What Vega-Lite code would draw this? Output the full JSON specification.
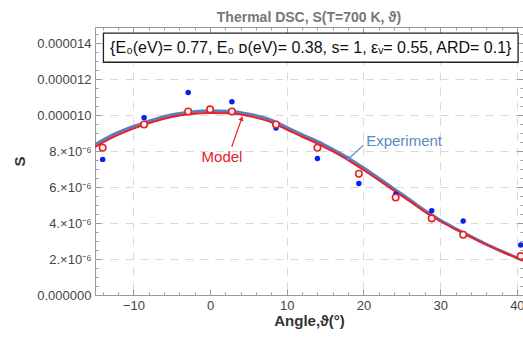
{
  "$schema": "https://vega.github.io/schema/vega-lite/v6.json",
  "width": 428,
  "height": 268,
  "autosize": "none",
  "padding": {"left": 95, "top": 27, "right": 0, "bottom": 44},
  "background": "white",
  "title": {"text": "Thermal DSC, S(T=700 K, ϑ)", "fontSize": 14, "fontWeight": "bold", "color": "#777777", "font": "Liberation Sans", "anchor": "middle", "offset": 2},
  "config": {
    "view": {"stroke": "#9a9a9a", "strokeWidth": 1},
    "axis": {"labelFont": "Liberation Sans", "titleFont": "Liberation Sans"}
  },
  "datasets": {
    "curves": [
      {"angle": -15, "S": 8.22e-6, "series": "Model"},
      {"angle": -12.5, "S": 8.8e-6, "series": "Model"},
      {"angle": -10, "S": 9.25e-6, "series": "Model"},
      {"angle": -7.5, "S": 9.62e-6, "series": "Model"},
      {"angle": -5, "S": 9.9e-6, "series": "Model"},
      {"angle": -2.5, "S": 10.06e-6, "series": "Model"},
      {"angle": 0, "S": 10.12e-6, "series": "Model"},
      {"angle": 2.5, "S": 10.1e-6, "series": "Model"},
      {"angle": 5, "S": 9.95e-6, "series": "Model"},
      {"angle": 7.5, "S": 9.68e-6, "series": "Model"},
      {"angle": 10, "S": 9.2e-6, "series": "Model"},
      {"angle": 12, "S": 8.8e-6, "series": "Model"},
      {"angle": 14, "S": 8.42e-6, "series": "Model"},
      {"angle": 16, "S": 7.98e-6, "series": "Model"},
      {"angle": 18, "S": 7.5e-6, "series": "Model"},
      {"angle": 20, "S": 6.95e-6, "series": "Model"},
      {"angle": 22, "S": 6.38e-6, "series": "Model"},
      {"angle": 24, "S": 5.8e-6, "series": "Model"},
      {"angle": 26, "S": 5.22e-6, "series": "Model"},
      {"angle": 28, "S": 4.62e-6, "series": "Model"},
      {"angle": 30, "S": 4.1e-6, "series": "Model"},
      {"angle": 32, "S": 3.65e-6, "series": "Model"},
      {"angle": 34, "S": 3.22e-6, "series": "Model"},
      {"angle": 36, "S": 2.8e-6, "series": "Model"},
      {"angle": 38, "S": 2.42e-6, "series": "Model"},
      {"angle": 40.8, "S": 1.92e-6, "series": "Model"},
      {"angle": -15, "S": 8.36e-6, "series": "Experiment"},
      {"angle": -12.5, "S": 8.94e-6, "series": "Experiment"},
      {"angle": -10, "S": 9.37e-6, "series": "Experiment"},
      {"angle": -7.5, "S": 9.74e-6, "series": "Experiment"},
      {"angle": -5, "S": 10.02e-6, "series": "Experiment"},
      {"angle": -2.5, "S": 10.18e-6, "series": "Experiment"},
      {"angle": 0, "S": 10.24e-6, "series": "Experiment"},
      {"angle": 2.5, "S": 10.22e-6, "series": "Experiment"},
      {"angle": 5, "S": 10.07e-6, "series": "Experiment"},
      {"angle": 7.5, "S": 9.8e-6, "series": "Experiment"},
      {"angle": 10, "S": 9.32e-6, "series": "Experiment"},
      {"angle": 12, "S": 8.92e-6, "series": "Experiment"},
      {"angle": 14, "S": 8.54e-6, "series": "Experiment"},
      {"angle": 16, "S": 8.1e-6, "series": "Experiment"},
      {"angle": 18, "S": 7.62e-6, "series": "Experiment"},
      {"angle": 20, "S": 7.07e-6, "series": "Experiment"},
      {"angle": 22, "S": 6.49e-6, "series": "Experiment"},
      {"angle": 24, "S": 5.9e-6, "series": "Experiment"},
      {"angle": 26, "S": 5.31e-6, "series": "Experiment"},
      {"angle": 28, "S": 4.7e-6, "series": "Experiment"},
      {"angle": 30, "S": 4.17e-6, "series": "Experiment"},
      {"angle": 32, "S": 3.7e-6, "series": "Experiment"},
      {"angle": 34, "S": 3.26e-6, "series": "Experiment"},
      {"angle": 36, "S": 2.83e-6, "series": "Experiment"},
      {"angle": 38, "S": 2.44e-6, "series": "Experiment"},
      {"angle": 40.8, "S": 1.93e-6, "series": "Experiment"}
    ],
    "points": [
      {"angle": -14, "S": 7.54e-6, "series": "Experiment"},
      {"angle": -8.6, "S": 9.85e-6, "series": "Experiment"},
      {"angle": -2.85, "S": 11.26e-6, "series": "Experiment"},
      {"angle": 2.85, "S": 10.74e-6, "series": "Experiment"},
      {"angle": 8.6, "S": 9.29e-6, "series": "Experiment"},
      {"angle": 14, "S": 7.59e-6, "series": "Experiment"},
      {"angle": 19.4, "S": 6.2e-6, "series": "Experiment"},
      {"angle": 24.2, "S": 5.6e-6, "series": "Experiment"},
      {"angle": 28.9, "S": 4.68e-6, "series": "Experiment"},
      {"angle": 33.0, "S": 4.11e-6, "series": "Experiment"},
      {"angle": 40.5, "S": 2.78e-6, "series": "Experiment"},
      {"angle": -14, "S": 8.19e-6, "series": "Model"},
      {"angle": -8.6, "S": 9.48e-6, "series": "Model"},
      {"angle": -2.85, "S": 10.2e-6, "series": "Model"},
      {"angle": 0, "S": 10.32e-6, "series": "Model"},
      {"angle": 2.85, "S": 10.2e-6, "series": "Model"},
      {"angle": 8.6, "S": 9.48e-6, "series": "Model"},
      {"angle": 14, "S": 8.19e-6, "series": "Model"},
      {"angle": 19.4, "S": 6.74e-6, "series": "Model"},
      {"angle": 24.2, "S": 5.42e-6, "series": "Model"},
      {"angle": 28.9, "S": 4.26e-6, "series": "Model"},
      {"angle": 33.0, "S": 3.35e-6, "series": "Model"},
      {"angle": 40.5, "S": 2.16e-6, "series": "Model"}
    ],
    "labels": [
      {"angle": 1.56, "S": 7.67e-6, "text": "Model", "series": "Model"},
      {"angle": 25.3, "S": 8.56e-6, "text": "Experiment", "series": "Experiment"}
    ],
    "arrows": [
      {"a1": 2.83, "s1": 8.24e-6, "a2": 4.13, "s2": 9.82e-6, "dir": 19, "series": "Model"},
      {"a1": 20.0, "s1": 8.33e-6, "a2": 18.04, "s2": 7.56e-6, "dir": 227, "series": "Experiment"}
    ],
    "box": [
      {"a1": -13.9, "a2": 40.16, "s1": 12.94e-6, "s2": 14.56e-6, "ac": 13.13, "sc": 13.75e-6, "text": "{E₀(eV)= 0.77, E₀ ᴅ(eV)= 0.38, s= 1, εᵥ= 0.55, ARD= 0.1}"}
    ]
  },
  "resolve": {"axis": {"x": "independent", "y": "independent"}},
  "layer": [
    {
      "data": {"name": "curves"},
      "transform": [{"filter": "datum.series === 'Experiment'"}],
      "mark": {"type": "line", "color": "#5b7fb8", "strokeWidth": 3, "interpolate": "monotone", "clip": true},
      "encoding": {
        "x": {
          "field": "angle", "type": "quantitative",
          "scale": {"domain": [-15, 40.8], "nice": false, "zero": false},
          "axis": {
            "orient": "bottom",
            "title": "Angle,ϑ(°)",
            "values": [-14, -12, -10, -8, -6, -4, -2, 0, 2, 4, 6, 8, 10, 12, 14, 16, 18, 20, 22, 24, 26, 28, 30, 32, 34, 36, 38, 40],
            "labelExpr": "datum.value % 10 === 0 ? datum.label : ''",
            "labelFlush": false,
            "labelFontSize": 13,
            "labelColor": "#444444",
            "labelPadding": 10,
            "domain": false,
            "tickColor": "#9a9a9a",
            "tickSize": {"condition": {"test": "datum.value % 10 === 0", "value": -6}, "value": -3},
            "grid": true,
            "gridColor": "#d9d9d9",
            "gridDash": [8, 7],
            "gridOpacity": {"condition": {"test": "datum.value % 10 === 0 && datum.value !== 0", "value": 1}, "value": 0},
            "titleFontSize": 15,
            "titleFontWeight": "bold",
            "titleColor": "#333333",
            "titlePadding": 1
          }
        },
        "y": {
          "field": "S", "type": "quantitative",
          "scale": {"domain": [0, 1.49e-5], "nice": false, "zero": false},
          "axis": {
            "orient": "left",
            "title": "S",
            "values": [0, 0.5e-6, 1e-6, 1.5e-6, 2e-6, 2.5e-6, 3e-6, 3.5e-6, 4e-6, 4.5e-6, 5e-6, 5.5e-6, 6e-6, 6.5e-6, 7e-6, 7.5e-6, 8e-6, 8.5e-6, 9e-6, 9.5e-6, 10e-6, 10.5e-6, 11e-6, 11.5e-6, 12e-6, 12.5e-6, 13e-6, 13.5e-6, 14e-6, 14.5e-6],
            "labelExpr": "abs(datum.value*1e6/2 - round(datum.value*1e6/2)) > 0.01 ? '' : (round(datum.value*1e6) == 0 ? '0.000000' : (round(datum.value*1e6) < 10 ? round(datum.value*1e6) + '.×10⁻⁶' : '0.0000' + round(datum.value*1e6)))",
            "labelFontSize": 13,
            "labelColor": "#444444",
            "labelPadding": 10,
            "domain": false,
            "tickColor": "#9a9a9a",
            "tickSize": {"condition": {"test": "abs(datum.value*1e6/2 - round(datum.value*1e6/2)) < 0.01", "value": -6}, "value": -3},
            "grid": true,
            "gridColor": "#d9d9d9",
            "gridDash": [8, 7],
            "gridOpacity": {"condition": {"test": "abs(datum.value*1e6/2 - round(datum.value*1e6/2)) < 0.01 && datum.value > 1e-9", "value": 1}, "value": 0},
            "titleFontSize": 15,
            "titleFontWeight": "bold",
            "titleColor": "#333333",
            "titlePadding": 9
          }
        }
      }
    },
    {
      "data": {"name": "curves"},
      "transform": [{"filter": "datum.series === 'Model'"}],
      "mark": {"type": "line", "color": "#e8202a", "strokeWidth": 2, "interpolate": "monotone", "clip": true},
      "encoding": {
        "x": {
          "field": "angle", "type": "quantitative",
          "axis": {
            "orient": "top", "title": null, "labels": false, "domain": false, "grid": false,
            "values": [-14, -12, -10, -8, -6, -4, -2, 0, 2, 4, 6, 8, 10, 12, 14, 16, 18, 20, 22, 24, 26, 28, 30, 32, 34, 36, 38, 40],
            "tickColor": "#9a9a9a",
            "tickSize": {"condition": {"test": "datum.value % 10 === 0", "value": -6}, "value": -3}
          }
        },
        "y": {
          "field": "S", "type": "quantitative",
          "axis": {
            "orient": "right", "title": null, "labels": false, "domain": false, "grid": false,
            "values": [0, 0.5e-6, 1e-6, 1.5e-6, 2e-6, 2.5e-6, 3e-6, 3.5e-6, 4e-6, 4.5e-6, 5e-6, 5.5e-6, 6e-6, 6.5e-6, 7e-6, 7.5e-6, 8e-6, 8.5e-6, 9e-6, 9.5e-6, 10e-6, 10.5e-6, 11e-6, 11.5e-6, 12e-6, 12.5e-6, 13e-6, 13.5e-6, 14e-6, 14.5e-6],
            "tickColor": "#9a9a9a",
            "tickSize": {"condition": {"test": "abs(datum.value*1e6/2 - round(datum.value*1e6/2)) < 0.01", "value": -6}, "value": -3}
          }
        }
      }
    },
    {
      "mark": {"type": "rule", "color": "#a8a8a8", "strokeWidth": 1},
      "encoding": {"x": {"datum": 0, "type": "quantitative", "axis": null}}
    },
    {
      "data": {"name": "points"},
      "transform": [{"filter": "datum.series === 'Experiment'"}],
      "mark": {"type": "point", "shape": "circle", "filled": true, "color": "#0a1ef0", "size": 30, "opacity": 1, "clip": true},
      "encoding": {
        "x": {"field": "angle", "type": "quantitative", "axis": null},
        "y": {"field": "S", "type": "quantitative", "axis": null}
      }
    },
    {
      "data": {"name": "points"},
      "transform": [{"filter": "datum.series === 'Model'"}],
      "mark": {"type": "point", "shape": "circle", "filled": false, "fill": "white", "fillOpacity": 1, "stroke": "#e8202a", "strokeWidth": 1.6, "size": 42, "opacity": 1, "clip": true},
      "encoding": {
        "x": {"field": "angle", "type": "quantitative", "axis": null},
        "y": {"field": "S", "type": "quantitative", "axis": null}
      }
    },
    {
      "data": {"name": "arrows"},
      "mark": {"type": "rule", "strokeWidth": 1.2},
      "encoding": {
        "x": {"field": "a1", "type": "quantitative", "axis": null},
        "y": {"field": "s1", "type": "quantitative", "axis": null},
        "x2": {"field": "a2"},
        "y2": {"field": "s2"},
        "color": {"field": "series", "type": "nominal", "scale": {"domain": ["Model", "Experiment"], "range": ["#e8202a", "#5b87c5"]}, "legend": null}
      }
    },
    {
      "data": {"name": "arrows"},
      "mark": {"type": "point", "shape": "triangle-up", "filled": true, "size": 28, "opacity": 1},
      "encoding": {
        "x": {"field": "a2", "type": "quantitative", "axis": null},
        "y": {"field": "s2", "type": "quantitative", "axis": null},
        "angle": {"field": "dir", "type": "quantitative", "scale": null},
        "color": {"field": "series", "type": "nominal", "scale": {"domain": ["Model", "Experiment"], "range": ["#e8202a", "#5b87c5"]}, "legend": null}
      }
    },
    {
      "data": {"name": "labels"},
      "mark": {"type": "text", "font": "Liberation Sans", "fontSize": 15, "align": "center", "baseline": "middle"},
      "encoding": {
        "x": {"field": "angle", "type": "quantitative", "axis": null},
        "y": {"field": "S", "type": "quantitative", "axis": null},
        "text": {"field": "text"},
        "color": {"field": "series", "type": "nominal", "scale": {"domain": ["Model", "Experiment"], "range": ["#e8202a", "#5b87c5"]}, "legend": null}
      }
    },
    {
      "data": {"name": "box"},
      "mark": {"type": "rect", "fill": "white", "stroke": "#222222", "strokeWidth": 1.3},
      "encoding": {
        "x": {"field": "a1", "type": "quantitative", "axis": null},
        "x2": {"field": "a2"},
        "y": {"field": "s1", "type": "quantitative", "axis": null},
        "y2": {"field": "s2"}
      }
    },
    {
      "data": {"name": "box"},
      "mark": {"type": "text", "font": "Liberation Sans", "fontSize": 16, "color": "#111111", "align": "center", "baseline": "middle"},
      "encoding": {
        "x": {"field": "ac", "type": "quantitative", "axis": null},
        "y": {"field": "sc", "type": "quantitative", "axis": null},
        "text": {"field": "text"}
      }
    }
  ]
}
